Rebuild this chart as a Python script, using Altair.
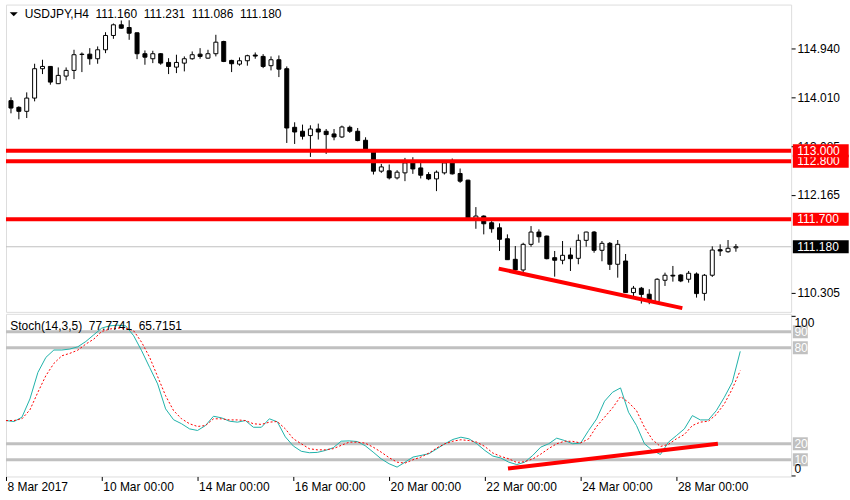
import altair as alt
import pandas as pd

# ---------------- data (USDJPY H4, bar 0 = 8 Mar 2017 00:00) ----------------
opens = [113.950, 113.824, 113.748, 113.999, 114.556, 114.599, 114.272, 114.416, 114.524, 114.825,
         114.832, 114.745, 114.915, 115.186, 115.388, 115.337, 115.237, 114.840, 114.745, 114.840,
         114.675, 114.586, 114.662, 114.745, 114.832, 114.756, 114.840, 115.072, 114.713, 114.643,
         114.707, 114.815, 114.789, 114.613, 114.726, 114.556, 113.445, 113.370, 113.288, 113.413,
         113.370, 113.319, 113.262, 113.445, 113.370, 113.199, 113.023, 112.613, 112.620, 112.486,
         112.581, 112.770, 112.675, 112.550, 112.467, 112.581, 112.770, 112.569, 112.443, 111.699,
         111.762, 111.635, 111.540, 111.332, 110.942, 110.740, 111.226, 111.459, 111.383, 110.973,
         110.924, 111.024, 110.961, 111.302, 111.459, 111.113, 111.245, 110.848, 110.910, 110.311,
         110.394, 110.280, 110.140, 110.545, 110.640, 110.645, 110.564, 110.664, 110.296, 110.640,
         111.125, 111.086, 111.160]
highs = [114.013, 113.843, 114.107, 114.650, 114.726, 114.605, 114.580, 114.580, 114.915, 114.864,
         114.946, 114.978, 115.248, 115.413, 115.470, 115.475, 115.240, 114.902, 114.896, 114.851,
         114.756, 114.821, 114.789, 114.883, 114.946, 114.915, 115.199, 115.086, 114.726, 114.770,
         114.821, 114.864, 114.832, 114.789, 114.807, 114.599, 113.540, 113.496, 113.483, 113.515,
         113.413, 113.413, 113.477, 113.477, 113.432, 113.256, 113.030, 112.751, 112.740, 112.632,
         112.865, 112.878, 112.770, 112.594, 112.626, 112.802, 112.853, 112.664, 112.450, 111.932,
         111.775, 111.667, 111.624, 111.415, 111.194, 111.256, 111.572, 111.510, 111.390, 111.100,
         111.289, 111.162, 111.415, 111.465, 111.478, 111.289, 111.270, 111.308, 111.043, 110.437,
         110.418, 110.375, 110.583, 110.689, 110.816, 110.659, 110.721, 110.693, 110.664, 111.188,
         111.226, 111.308, 111.231]
lows = [113.710, 113.597, 113.621, 113.937, 114.454, 114.253, 114.265, 114.334, 114.359, 114.492,
        114.631, 114.650, 114.851, 115.123, 115.313, 115.104, 114.737, 114.631, 114.662, 114.631,
        114.454, 114.473, 114.505, 114.726, 114.745, 114.745, 114.789, 114.681, 114.492, 114.613,
        114.613, 114.745, 114.567, 114.524, 114.397, 113.148, 113.129, 113.213, 112.883, 113.213,
        112.940, 113.199, 113.243, 113.338, 113.180, 112.990, 112.550, 112.581, 112.456, 112.456,
        112.424, 112.562, 112.475, 112.443, 112.235, 112.550, 112.550, 112.392, 111.705, 111.521,
        111.415, 111.446, 111.100, 110.930, 110.708, 110.689, 111.181, 111.257, 110.942, 110.613,
        110.848, 110.721, 110.848, 111.181, 111.067, 110.905, 110.740, 110.594, 110.305, 110.239,
        110.103, 110.091, 110.135, 110.437, 110.519, 110.509, 110.500, 110.216, 110.159, 110.608,
        111.005, 111.067, 111.086]
closes = [113.810, 113.748, 113.999, 114.556, 114.599, 114.302, 114.429, 114.524, 114.821, 114.832,
          114.745, 114.915, 115.186, 115.388, 115.324, 115.229, 114.840, 114.775, 114.840, 114.662,
          114.599, 114.675, 114.745, 114.821, 114.789, 114.840, 115.059, 114.694, 114.650, 114.707,
          114.802, 114.795, 114.599, 114.726, 114.548, 113.432, 113.356, 113.275, 113.413, 113.356,
          113.307, 113.262, 113.451, 113.370, 113.194, 113.023, 112.613, 112.694, 112.486, 112.594,
          112.770, 112.656, 112.537, 112.467, 112.594, 112.770, 112.562, 112.424, 111.718, 111.762,
          111.616, 111.521, 111.321, 110.935, 110.740, 111.226, 111.459, 111.370, 110.954, 110.924,
          111.018, 110.954, 111.302, 111.459, 111.113, 111.245, 110.848, 111.226, 110.311, 110.394,
          110.277, 110.169, 110.564, 110.640, 110.625, 110.532, 110.678, 110.292, 110.640, 111.118,
          111.100, 111.151, 111.180]

stoch_main = [34.5, 33.9, 36.6, 48.0, 64.6, 74.0, 78.6, 78.6, 79.2, 80.6,
              83.9, 88.1, 92.3, 93.7, 94.1, 93.7, 87.5, 78.1, 67.7, 57.4,
              41.8, 35.0, 32.5, 29.3, 28.3, 31.4, 37.2, 36.2, 34.1, 33.5,
              34.5, 30.3, 30.3, 35.6, 33.7, 24.3, 18.6, 15.3, 14.4, 14.6,
              15.8, 17.5, 21.6, 21.8, 21.4, 18.8, 14.8, 10.6, 7.5, 5.4,
              8.5, 11.7, 12.7, 13.8, 16.9, 20.0, 22.7, 24.1, 23.1, 20.0,
              15.8, 12.3, 11.1, 8.5, 7.0, 8.5, 12.7, 17.9, 20.0, 23.5,
              22.0, 20.0, 20.4, 28.3, 35.5, 46.6, 52.2, 54.9, 39.7, 31.4,
              20.0, 15.8, 13.3, 21.0, 25.1, 29.3, 37.6, 34.9, 34.9, 40.7,
              49.0, 58.4, 77.77]
stoch_signal = [34.5, 34.5, 35.6, 41.2, 52.2, 62.6, 70.2, 75.0, 76.5, 78.5,
                82.3, 85.4, 90.2, 91.7, 92.3, 92.3, 90.6, 83.4, 74.0, 62.0,
                50.0, 40.7, 35.6, 32.5, 30.8, 31.4, 35.6, 35.6, 34.9, 34.9,
                34.5, 32.5, 32.1, 33.5, 33.9, 29.3, 23.1, 20.0, 16.9, 16.2,
                16.2, 16.9, 19.0, 21.0, 21.0, 20.4, 17.9, 14.8, 11.3, 8.5,
                7.9, 10.0, 11.7, 14.2, 17.5, 20.0, 21.6, 22.5, 22.0, 21.0,
                18.3, 14.2, 12.1, 10.6, 8.3, 8.8, 10.5, 13.5, 17.0, 20.0,
                21.6, 21.5, 20.5, 23.1, 30.8, 36.6, 42.4, 49.5, 45.9, 40.7,
                30.3, 22.5, 18.3, 19.6, 23.1, 25.8, 31.4, 33.5, 34.1, 38.3,
                44.9, 54.3, 65.72]

date_ticks = [0, 12, 24, 36, 48, 60, 72, 84]
date_labels = ["8 Mar 2017", "10 Mar 00:00", "14 Mar 00:00", "16 Mar 00:00",
               "20 Mar 00:00", "22 Mar 00:00", "24 Mar 00:00", "28 Mar 00:00"]
price_ticks = [114.940, 114.010, 113.085, 112.165, 110.305]
levels = [113.000, 112.800, 111.700]
current_price = [111.180]
price_trend_i = [61.9, 85.2]
price_trend_p = [110.765, 110.016]
stoch_levels = [90, 80, 20, 10]
stoch_edges = [100, 0]
stoch_trend_i = [62.9, 89.2]
stoch_trend_v = [4.55, 20.0]

NB = "\u00a0"
title_main = f"USDJPY,H4{NB}{NB}111.160{NB}{NB}111.231{NB}{NB}111.086{NB}{NB}111.180"
title_stoch = f"Stoch(14,3,5){NB}{NB}77.7741{NB}{NB}65.7151"

# ---------------- layout constants ----------------
W = 787
H_MAIN = 308
H_STOCH = 163
FONT = "Liberation Sans"

xs = alt.Scale(domain=[0, 98.375], nice=False, zero=False)
ps = alt.Scale(domain=[109.946, 115.772], nice=False, zero=False)
ss = alt.Scale(domain=[-0.44, 101.2], nice=False, zero=False)

price_axis = alt.Axis(orient="right", values=price_ticks, format=".3f", tickSize=4,
                      labelPadding=2, domain=False, grid=False, title=None, zindex=0,
                      labelFont=FONT, labelFontSize=12, labelColor="black", tickColor="black")

expr = "''"
for v, lab in reversed(list(zip(date_ticks, date_labels))):
    expr = f"datum.value == {v} ? '{lab}' : ({expr})"

date_axis = alt.Axis(values=date_ticks, labelExpr=expr, labelAlign="left", labelBaseline="top",
                     labelPadding=1, labelOffset=1, tickSize=4, domain=False, grid=False,
                     title=None, labelOverlap=False, labelFlush=False, labelFont=FONT,
                     labelFontSize=12, labelColor="black", tickColor="black", zindex=0)

stoch_axis = alt.Axis(orient="right", values=stoch_edges, labels=False, tickSize=4,
                      domain=False, grid=False, title=None, tickColor="black", zindex=0)


def XM(f):
    return alt.X(f, scale=xs, axis=None)


def YP(f):
    return alt.Y(f, scale=ps, axis=price_axis, title=None)


def XS(f):
    return alt.X(f, scale=xs, axis=date_axis, title=None)


def YS(f):
    return alt.Y(f, scale=ss, axis=stoch_axis, title=None)


bars = pd.DataFrame({"i": list(range(len(opens))), "open": opens, "high": highs,
                     "low": lows, "close": closes})

# ---------------- main price panel ----------------
cur_rule = alt.Chart(pd.DataFrame({"p": current_price})).mark_rule(
    color="#C0C0C0", strokeWidth=1).encode(y=YP("p:Q"))

wicks = alt.Chart(bars).mark_rule(color="black", strokeWidth=1, clip=True).encode(
    x=XM("i:Q"), y=YP("low:Q"), y2="high:Q")

bodies = alt.Chart(bars).mark_bar(size=4, stroke="black", strokeWidth=1, clip=True).encode(
    x=XM("i:Q"), y=YP("open:Q"), y2="close:Q",
    fill=alt.condition("datum.close >= datum.open", alt.value("white"), alt.value("black")))

level_rules = alt.Chart(pd.DataFrame({"p": levels})).mark_rule(
    color="red", strokeWidth=4).encode(y=YP("p:Q"))

ptrend = alt.Chart(pd.DataFrame({"i": price_trend_i, "p": price_trend_p})).mark_line(
    color="red", strokeWidth=4).encode(x=XM("i:Q"), y=YP("p:Q"))

tri = alt.Chart(pd.DataFrame({"k": [0]})).mark_point(
    shape="M-1,-0.5L1,-0.5L0,0.5Z", size=64, filled=True, color="black", opacity=1).encode(
    x=alt.value(7.8), y=alt.value(9.8))

ttl = alt.Chart(pd.DataFrame({"t": [title_main]})).mark_text(
    align="left", baseline="middle", font=FONT, fontSize=12, color="black").encode(
    x=alt.value(18.7), y=alt.value(9.7), text="t:N")

main_layers = [cur_rule, wicks, bodies, level_rules, ptrend, tri, ttl]


def price_box(p, fill, txt_color):
    d = pd.DataFrame({"p": [p], "t": [f"{p:.3f}"]})
    box = alt.Chart(d).mark_rect(color=fill, yOffset=-6.5, y2Offset=6.5).encode(
        x=alt.value(W + 1.7), x2=alt.value(W + 57.7), y=YP("p:Q"), y2="p:Q")
    txt = alt.Chart(d).mark_text(align="left", baseline="middle", font=FONT,
                                 fontSize=12, color=txt_color).encode(
        x=alt.value(W + 6.2), y=YP("p:Q"), text="t:N")
    return [box, txt]


for p in sorted(levels):
    main_layers += price_box(p, "red", "white")
main_layers += price_box(current_price[0], "black", "white")

main = alt.layer(*main_layers).properties(width=W, height=H_MAIN)

# ---------------- stochastic panel ----------------
st = pd.DataFrame({"i": list(range(len(stoch_main))), "main": stoch_main, "signal": stoch_signal})

lvl = alt.Chart(pd.DataFrame({"v": stoch_levels})).mark_rule(
    color="#C0C0C0", strokeWidth=3).encode(y=YS("v:Q"))

main_line = alt.Chart(st).mark_line(color="#20B2AA", strokeWidth=1).encode(
    x=XS("i:Q"), y=YS("main:Q"))

sig_line = alt.Chart(st).mark_line(color="red", strokeWidth=1, strokeDash=[2, 2]).encode(
    x=XS("i:Q"), y=YS("signal:Q"))

strend = alt.Chart(pd.DataFrame({"i": stoch_trend_i, "v": stoch_trend_v})).mark_line(
    color="red", strokeWidth=4).encode(x=XS("i:Q"), y=YS("v:Q"))

lvl_df = pd.DataFrame({"v": stoch_levels, "t": [str(v) for v in stoch_levels]})
lvl_box = alt.Chart(lvl_df).mark_rect(color="#C0C0C0", yOffset=-6.5, y2Offset=6.5).encode(
    x=alt.value(W + 1.7), x2=alt.value(W + 16.7), y=YS("v:Q"), y2="v:Q")
lvl_txt = alt.Chart(lvl_df).mark_text(align="left", baseline="middle", font=FONT,
                                      fontSize=12, color="white").encode(
    x=alt.value(W + 3.3), y=YS("v:Q"), text="t:N")

top_txt = alt.Chart(pd.DataFrame({"v": [stoch_edges[0]], "t": [str(stoch_edges[0])]})).mark_text(
    align="left", baseline="middle", font=FONT, fontSize=12, color="black", dy=7).encode(
    x=alt.value(W + 3.3), y=YS("v:Q"), text="t:N")
bot_txt = alt.Chart(pd.DataFrame({"v": [stoch_edges[1]], "t": [str(stoch_edges[1])]})).mark_text(
    align="left", baseline="middle", font=FONT, fontSize=12, color="black", dy=-7).encode(
    x=alt.value(W + 3.3), y=YS("v:Q"), text="t:N")

sttl = alt.Chart(pd.DataFrame({"t": [title_stoch]})).mark_text(
    align="left", baseline="middle", font=FONT, fontSize=12, color="black").encode(
    x=alt.value(4.3), y=alt.value(12), text="t:N")

stoch = alt.layer(lvl, main_line, sig_line, strend, lvl_box, lvl_txt, top_txt, bot_txt, sttl
                  ).properties(width=W, height=H_STOCH)

chart = alt.vconcat(main, stoch, spacing=2, bounds="flush").properties(
    padding={"left": 3, "top": 3, "right": 0, "bottom": 0},
    background="white",
).configure_view(stroke="black", strokeWidth=1).configure(font=FONT)

chart.save("out.html", embed_options={"renderer": "svg", "actions": False})
